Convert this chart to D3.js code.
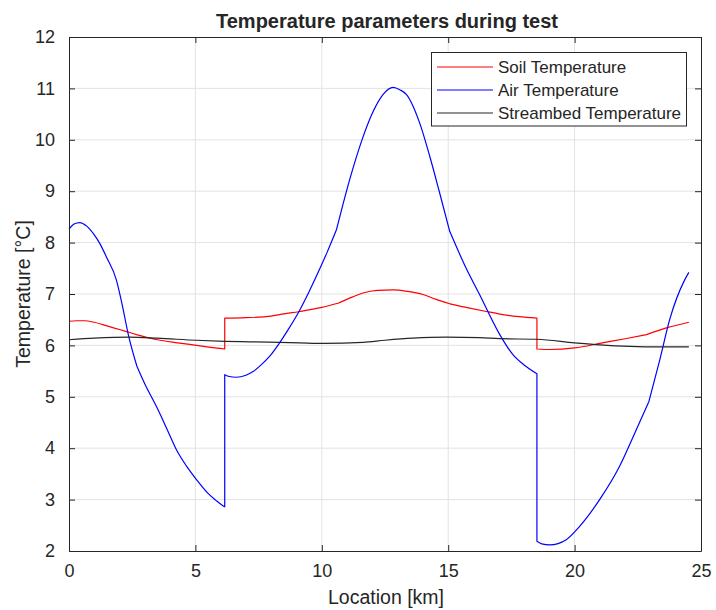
<!DOCTYPE html>
<html><head><meta charset="utf-8">
<script src="https://cdn.jsdelivr.net/npm/d3@7"></script>
<style>
body{margin:0;background:#fff;}
text{font-family:"Liberation Sans",Arial,Helvetica,sans-serif;fill:#262626;}
</style></head>
<body><svg id="c" width="716" height="610"></svg>
<script>
const xTicks=[0,5,10,15,20,25];
const yTicks=[2,3,4,5,6,7,8,9,10,11,12];
const seriesNames=["Soil Temperature","Air Temperature","Streambed Temperature"];
const seriesColors=["#ff0000","#0000ff","#262626"];
const soilX=[0,0.3,0.6,1.0,1.5,2.0,2.4,2.67,3.5,4.3,5.04,5.6,6.16,6.16,7.0,8.0,8.33,9.13,10.0,10.64,11.2,11.63,12.2,12.82,13.4,14.0,14.5,15.06,15.8,16.51,17.04,17.8,18.51,18.51,19.0,20.0,21.1,22.0,22.84,23.63,24.52];
const soilY=[6.47,6.48,6.48,6.45,6.38,6.31,6.25,6.21,6.11,6.05,6.0,5.96,5.93,6.53,6.54,6.57,6.6,6.66,6.74,6.82,6.94,7.02,7.07,7.08,7.05,6.99,6.9,6.81,6.73,6.66,6.61,6.56,6.53,5.93,5.92,5.95,6.05,6.13,6.21,6.34,6.45];
const soilKinks=[2.67,10.64,15.06,22.84];
const airX=[0,0.2,0.42,0.7,1.0,1.21,1.5,1.87,2.1,2.36,2.69,3.0,3.46,3.85,4.25,4.65,5.04,5.5,5.8,6.09,6.16,6.16,6.3,6.62,7.0,7.28,7.6,7.94,8.33,8.7,9.13,9.5,9.92,10.2,10.58,11.1,11.57,12.03,12.42,12.82,13.1,13.35,13.87,14.27,14.66,15.06,15.72,16.25,17.04,17.56,18.0,18.51,18.51,18.7,19.02,19.67,20.2,20.99,21.78,22.44,22.94,23.37,23.76,24.36,24.52];
const airY=[8.26,8.36,8.39,8.32,8.15,7.99,7.7,7.28,6.8,6.18,5.59,5.25,4.81,4.4,3.97,3.65,3.39,3.12,2.99,2.88,2.86,5.43,5.4,5.38,5.42,5.49,5.62,5.79,6.05,6.33,6.69,7.05,7.49,7.8,8.25,9.22,9.97,10.55,10.88,11.02,10.97,10.88,10.33,9.68,8.97,8.22,7.49,6.98,6.21,5.82,5.62,5.45,2.19,2.14,2.12,2.22,2.48,3.0,3.65,4.36,4.91,5.72,6.5,7.28,7.42];
const airKinks=[2.69,10.58,15.06,22.94];
const bedX=[0,1,2.4,3.5,5.04,6.16,7.14,9.13,10.05,11.63,12.5,13.6,14.93,16.25,17.04,18.5,20,21,22.2,23.4,24.52];
const bedY=[6.11,6.14,6.16,6.14,6.1,6.08,6.07,6.05,6.04,6.06,6.1,6.14,6.16,6.15,6.13,6.12,6.05,6.01,5.98,5.97,5.97];
const bedKinks=[];

const L=69,R=701,T=37,B=551;
const svg=d3.select("#c");
const x=d3.scaleLinear().domain([0,25]).range([L,R]);
const y=d3.scaleLinear().domain([2,12]).range([B,T]);
const axisCol="#262626";

// grid
const g=svg.append("g");
g.selectAll(".gx").data(xTicks.slice(1,-1)).enter().append("line")
 .attr("x1",d=>x(d)).attr("x2",d=>x(d)).attr("y1",T).attr("y2",B)
 .attr("stroke","#e3e3e3").attr("stroke-width",1);
g.selectAll(".gy").data(yTicks.slice(1,-1)).enter().append("line")
 .attr("y1",d=>y(d)).attr("y2",d=>y(d)).attr("x1",L).attr("x2",R)
 .attr("stroke","#e3e3e3").attr("stroke-width",1);

// lines: smooth pieces split at jumps and kinks
const sets=[[soilX,soilY,soilKinks],[airX,airY,airKinks],[bedX,bedY,bedKinks]];
const smooth=d3.line().x(d=>x(d[0])).y(d=>y(d[1])).curve(d3.curveMonotoneX);
sets.forEach((s,i)=>{
  const pts=s[0].map((v,j)=>[v,s[1][j]]);
  const segs=[];let cur=[pts[0]];
  for(let j=1;j<pts.length;j++){
    if(pts[j][0]===pts[j-1][0]){segs.push(cur);cur=[pts[j]];}
    else{cur.push(pts[j]); if(s[2].includes(pts[j][0])){segs.push(cur);cur=[pts[j]];}}
  }
  segs.push(cur);
  let d="";
  segs.forEach((sg,k)=>{
    let p=sg.length>1?smooth(sg):"";
    if(k>0&&p) p="L"+p.slice(1);
    d+=p;
  });
  svg.append("path").attr("d",d).attr("fill","none")
   .attr("stroke",seriesColors[i]).attr("stroke-width",1.2).attr("stroke-linejoin","round");
});

// axes
function styleAxis(sel){
  sel.select(".domain").attr("stroke",axisCol);
  sel.selectAll(".tick line").attr("stroke",axisCol);
  sel.selectAll(".tick text").attr("fill",axisCol).style("font-size","18px")
    .style("font-family","'Liberation Sans',Arial,sans-serif");
}
const ax=svg.append("g").attr("transform",`translate(0,${B})`)
 .call(d3.axisBottom(x).tickValues(xTicks).tickSize(-6).tickSizeOuter(0).tickPadding(13));
styleAxis(ax);
const axT=svg.append("g").attr("transform",`translate(0,${T})`)
 .call(d3.axisTop(x).tickValues(xTicks).tickSize(-6).tickSizeOuter(0).tickFormat(""));
styleAxis(axT);
const ay=svg.append("g").attr("transform",`translate(${L},0)`)
 .call(d3.axisLeft(y).tickValues(yTicks).tickSize(-6).tickSizeOuter(0).tickPadding(14));
styleAxis(ay);
const ayR=svg.append("g").attr("transform",`translate(${R},0)`)
 .call(d3.axisRight(y).tickValues(yTicks).tickSize(-6).tickSizeOuter(0).tickFormat(""));
styleAxis(ayR);

// labels
svg.append("text").attr("x",(L+R)/2+2).attr("y",28).attr("text-anchor","middle")
 .style("font-size","20px").style("font-weight","bold").text("Temperature parameters during test");
svg.append("text").attr("x",(L+R)/2+1).attr("y",604).attr("text-anchor","middle")
 .style("font-size","19.5px").text("Location [km]");
svg.append("text").attr("transform",`translate(30,${(T+B)/2}) rotate(-90)`).attr("text-anchor","middle")
 .style("font-size","19.5px").text("Temperature [°C]");

// legend
const lg=svg.append("g");
lg.append("rect").attr("x",431.5).attr("y",52.5).attr("width",255).attr("height",73.5)
 .attr("fill","#fff").attr("stroke",axisCol).attr("stroke-width",1);
seriesNames.forEach((n,i)=>{
  const yy=67+i*23;
  lg.append("line").attr("x1",437).attr("x2",493).attr("y1",yy).attr("y2",yy)
    .attr("stroke",seriesColors[i]).attr("stroke-width",1.2);
  lg.append("text").attr("x",498).attr("y",yy+6).style("font-size","17px").text(n);
});
</script></body></html>
